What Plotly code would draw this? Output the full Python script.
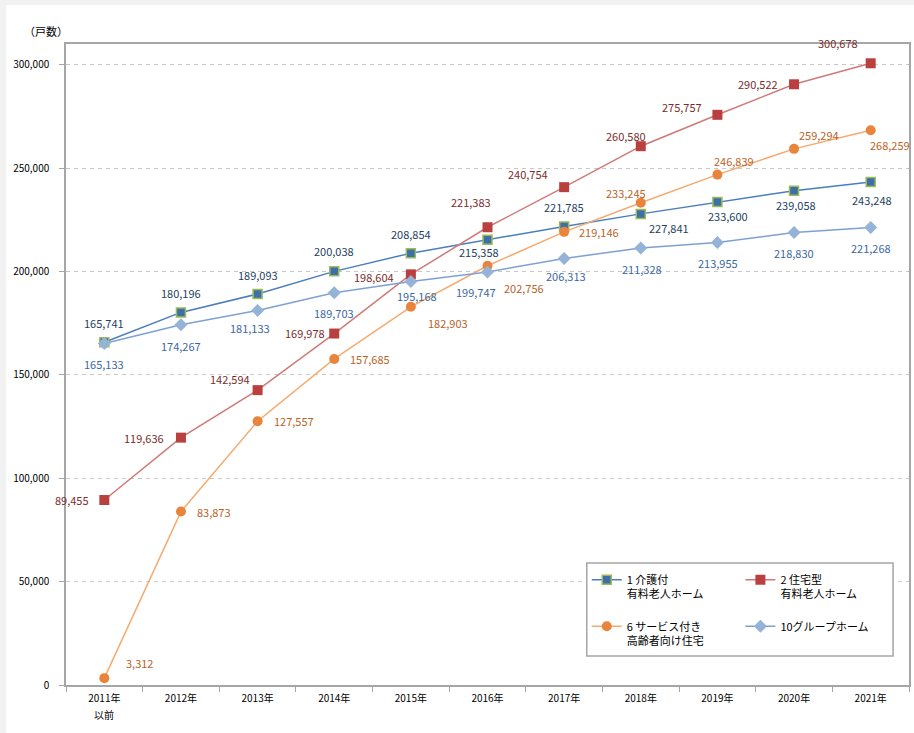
import plotly.graph_objects as go

categories = ["2011年以前", "2012年", "2013年", "2014年", "2015年", "2016年",
              "2017年", "2018年", "2019年", "2020年", "2021年"]
tick_labels = ["2011年", "2012年", "2013年", "2014年", "2015年", "2016年",
               "2017年", "2018年", "2019年", "2020年", "2021年"]
tick_sub = "以前"

name1 = "1 介護付<br>有料老人ホーム"
name2 = "2 住宅型<br>有料老人ホーム"
name6 = "6 サービス付き<br>高齢者向け住宅"
name10 = "10グループホーム"

kaigo = [165741, 180196, 189093, 200038, 208854, 215358, 221785, 227841, 233600, 239058, 243248]
jutaku = [89455, 119636, 142594, 169978, 198604, 221383, 240754, 260580, 275757, 290522, 300678]
sakoju = [3312, 83873, 127557, 157685, 182903, 202756, 219146, 233245, 246839, 259294, 268259]
group = [165133, 174267, 181133, 189703, 195168, 199747, 206313, 211328, 213955, 218830, 221268]

yticks = [0, 50000, 100000, 150000, 200000, 250000, 300000]

# label offsets in pixels (dx right, dy down)
off1 = [(0, -19), (0, -19), (0, -19), (0, -20), (0, -19), (-9, 12), (0, -19), (28, 14), (11, 14), (2, 14), (1, 18)]
off2 = [(-32, 0), (-37, 0), (-28, -11), (-29, -1), (-37, 3), (-17, -25), (-36, -13), (-15, -10), (-35, -8), (-36, 0), (-33, -20)]
off6 = [(35, -15), (33, 0), (36, 0), (36, 0), (37, 16), (36, 22), (35, 0), (-15, -10), (17, -14), (25, -14), (19, 15)]
off10 = [(0, 20), (0, 21), (-8, 18), (0, 20), (6, 15), (-12, 20), (2, 18), (1, 21), (1, 20), (0, 20), (0, 21)]

FONT = "Noto Sans CJK JP"

fig = go.Figure()

fig.add_trace(go.Scatter(
    x=categories, y=kaigo, name=name1, mode="lines+markers", legend="legend",
    legendgroup="a",
    line=dict(color="#4a7ebb", width=1.5),
    marker=dict(symbol="square", size=9, color="#3f6fa8", line=dict(color="#9bbb59", width=1.5)),
))
fig.add_trace(go.Scatter(
    x=categories, y=jutaku, name=name2, mode="lines+markers", legend="legend2",
    legendgroup="b",
    line=dict(color="#cf7a78", width=1.5),
    marker=dict(symbol="square", size=10, color="#b9403e"),
))
fig.add_trace(go.Scatter(
    x=categories, y=sakoju, name=name6, mode="lines+markers", legend="legend",
    legendgroup="c",
    line=dict(color="#f5aa6e", width=1.5),
    marker=dict(symbol="circle", size=10, color="#e8843b"),
))
fig.add_trace(go.Scatter(
    x=categories, y=group, name=name10, mode="lines+markers", legend="legend2",
    legendgroup="d",
    line=dict(color="#7ea1d3", width=1.5),
    marker=dict(symbol="diamond", size=10, color="#95b3d7"),
))

annotations = []
for vals, offs, col in [(kaigo, off1, "#243f60"), (jutaku, off2, "#7b2c2c"),
                        (sakoju, off6, "#bb621f"), (group, off10, "#3b68a3")]:
    for c, v, (dx, dy) in zip(categories, vals, offs):
        annotations.append(dict(
            x=c, y=v, xref="x", yref="y", text=f"{v:,}", showarrow=False,
            xshift=dx, yshift=-dy, font=dict(family=FONT, size=11, color=col),
        ))

annotations.append(dict(
    x=(46 - 66) / 845, y=(685 - 31) / 641, xref="paper", yref="paper",
    xanchor="center", yanchor="middle", text="（戸数）", showarrow=False,
    font=dict(family=FONT, size=11, color="#000"),
))
# second line of the first category label
annotations.append(dict(
    x=categories[0], y=(685 - 714) / 641, xref="x", yref="paper",
    xanchor="center", yanchor="middle", text=tick_sub, showarrow=False,
    font=dict(family=FONT, size=10, color="#000"),
))

shapes = [
    dict(type="rect", xref="paper", yref="paper", x0=(6 - 66) / 845, x1=1.1,
         y0=-0.2, y1=(685 - 5) / 641, fillcolor="white", line=dict(width=0), layer="below"),
    dict(type="rect", xref="paper", yref="paper", x0=(588 - 66) / 845, x1=(895 - 66) / 845,
         y0=(685 - 656) / 641, y1=(685 - 563) / 641, fillcolor="white",
         line=dict(color="#a6a6a6", width=1.5), layer="above"),
]

fig.update_layout(
    width=914, height=733,
    margin=dict(l=66, r=3, t=44, b=48),
    paper_bgcolor="#f2f2f2", plot_bgcolor="white",
    font=dict(family=FONT, size=10, color="#000"),
    showlegend=True,
    annotations=annotations,
    shapes=shapes,
    legend=dict(x=(588 - 66) / 845, xanchor="left", y=(685 - 566) / 641, yanchor="top",
                bgcolor="rgba(0,0,0,0)", borderwidth=0, valign="top", tracegroupgap=15,
                font=dict(family=FONT, size=11, color="#000")),
    legend2=dict(x=(742 - 66) / 845, xanchor="left", y=(685 - 566) / 641, yanchor="top",
                 bgcolor="rgba(0,0,0,0)", borderwidth=0, valign="top", tracegroupgap=15,
                 font=dict(family=FONT, size=11, color="#000")),
)

fig.update_xaxes(
    type="category", range=[-0.5, 10.5], tickson="boundaries", ticks="outside",
    ticklen=5, tickcolor="#a6a6a6", showline=True, linecolor="#a6a6a6", linewidth=1.5,
    mirror=True, showgrid=False, tickvals=categories, ticktext=tick_labels,
    ticklabelstandoff=3, tickfont=dict(family=FONT, size=10, color="#000"),
)
fig.update_yaxes(
    range=[0, 310000], tickvals=yticks, ticktext=[f"{v:,}" for v in yticks],
    ticks="outside", ticklen=5, tickcolor="#a6a6a6", showline=True,
    linecolor="#a6a6a6", linewidth=1.5, mirror=True, showgrid=True,
    gridcolor="#c8c8c8", griddash="4px,4px", gridwidth=1, zeroline=False,
    ticklabelstandoff=8, tickfont=dict(family=FONT, size=10, color="#000"),
)

fig.write_html("out.html")
